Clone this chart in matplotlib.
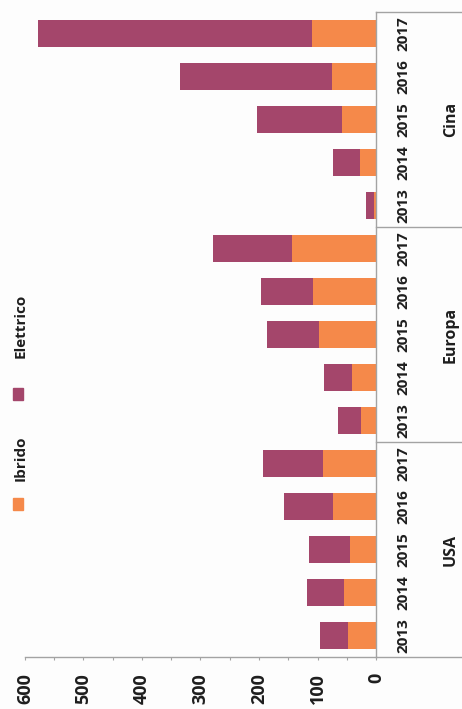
import matplotlib
matplotlib.use("Agg")
import matplotlib.pyplot as plt
import matplotlib.transforms as mtransforms
from matplotlib.patches import Rectangle
from matplotlib.ticker import MultipleLocator
import numpy as np

# Sales (thousands) of hybrid and electric cars, stacked per region and year
regions = ["USA", "Europa", "Cina"]
years = ["2013", "2014", "2015", "2016", "2017"]
ibrido = [48, 55, 44, 73, 90,        # USA
          26, 41, 97, 108, 143,      # Europa
          3, 27, 58, 75, 109]        # Cina
elettrico = [48, 63, 70, 84, 103,
             39, 48, 89, 89, 136,
             14, 47, 145, 260, 469]
value_ticks = [0, 100, 200, 300, 400, 500, 600]

C_IBRIDO = "#F5894A"
C_ELETTRICO = "#A4466B"
C_AXIS = "#A3A3A3"
C_TEXT = "#1E1E1E"
FONT = ["Open Sans", "DejaVu Sans"]

W, H = 462, 709
fig = plt.figure(figsize=(W / 100, H / 100), dpi=100)
fig.patch.set_facecolor("#FDFDFD")

left, right, bottom, top = 25, 376, 657, 12
ax = fig.add_axes([left / W, 1 - bottom / H, (right - left) / W, (bottom - top) / H])
ax.set_facecolor("#FDFDFD")

n = len(ibrido)
pos = np.arange(n)
bar_h = 0.65
ax.barh(pos, ibrido, height=bar_h, color=C_IBRIDO, label="Ibrido")
ax.barh(pos, elettrico, left=ibrido, height=bar_h, color=C_ELETTRICO, label="Elettrico")

ax.set_xlim(600, 0)
ax.set_ylim(-0.5, n - 0.5)

for s in ("left", "top"):
    ax.spines[s].set_visible(False)
for s in ("right", "bottom"):
    ax.spines[s].set_color(C_AXIS)
    ax.spines[s].set_linewidth(1.0)

# value axis along the bottom, labels read bottom-to-top
ax.set_xticks(value_ticks)
ax.set_xticklabels([str(v) for v in value_ticks], rotation=90,
                   fontsize=13, fontweight="bold", color=C_TEXT, family=FONT)
ax.xaxis.set_minor_locator(MultipleLocator(50))
ax.tick_params(axis="x", which="both", direction="out", length=2.5,
               width=0.8, color=C_AXIS, pad=9)

# year labels to the right of the category axis
ax.yaxis.tick_right()
ax.set_yticks(pos)
ax.set_yticklabels(years * len(regions), rotation=90, va="center",
                   fontsize=11, fontweight="bold", color=C_TEXT, family=FONT)
ax.tick_params(axis="y", length=0, pad=15)

# group separators and region names
blend = mtransforms.blended_transform_factory(fig.transFigure, ax.transData)
per = len(years)
for k in range(len(regions) + 1):
    yb = k * per - 0.5
    ax.plot([right / W, 1.0], [yb, yb], transform=blend, color=C_AXIS,
            lw=1.0, clip_on=False)
for k, name in enumerate(regions):
    yc = k * per + (per - 1) / 2
    ax.text(451 / W, yc, name, transform=blend, rotation=90, ha="center",
            va="center", fontsize=11.5, fontweight="bold", color=C_TEXT,
            family=FONT)

# legend drawn along the left edge, rotated like the rest of the chart
def fx(px):
    return px / W

def fy(py):
    return 1 - py / H

legend_items = [("Ibrido", C_IBRIDO, 504, 458), ("Elettrico", C_ELETTRICO, 394, 326)]
for label, col, patch_y, text_y in legend_items:
    fig.patches.append(Rectangle((fx(13), fy(patch_y + 6)), 10 / W, 12 / H,
                                 transform=fig.transFigure, color=col))
    fig.text(fx(21), fy(text_y), label, rotation=90, ha="center", va="center",
             fontsize=11, fontweight="bold", color=C_TEXT, family=FONT)

fig.savefig("out.png", dpi=100, facecolor=fig.get_facecolor())
